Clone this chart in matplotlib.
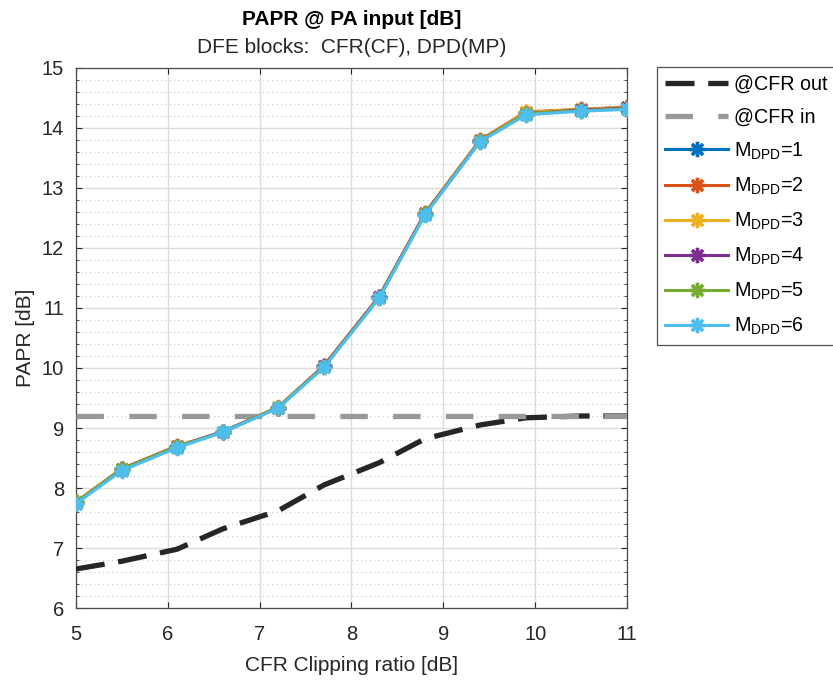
import numpy as np
import matplotlib
matplotlib.use("Agg")
import matplotlib.pyplot as plt
from matplotlib.ticker import MultipleLocator

plt.rcParams['font.family'] = ['Liberation Sans', 'DejaVu Sans']
plt.rcParams['mathtext.default'] = 'regular'

# clipping ratio sweep [dB]
clip_db = [5, 5.5, 6.1, 6.6, 7.2, 7.7, 8.3, 8.8, 9.4, 9.9, 10.5, 11]

# PAPR right after CFR, and of the raw input
papr_cfr_out = [6.65, 6.78, 6.98, 7.32, 7.62, 8.05, 8.42, 8.82, 9.05, 9.17, 9.2, 9.2]
papr_cfr_in = 9.2

# PAPR at PA input for each DPD memory depth
papr_dpd = {
    1: [7.76, 8.32, 8.69, 8.94, 9.34, 10.03, 11.18, 12.57, 13.79, 14.25, 14.30, 14.33],
    2: [7.77, 8.32, 8.70, 8.93, 9.34, 10.04, 11.19, 12.58, 13.80, 14.27, 14.31, 14.35],
    3: [7.76, 8.31, 8.69, 8.94, 9.35, 10.03, 11.18, 12.57, 13.79, 14.26, 14.31, 14.34],
    4: [7.75, 8.31, 8.69, 8.94, 9.34, 10.03, 11.18, 12.57, 13.78, 14.24, 14.30, 14.33],
    5: [7.76, 8.31, 8.69, 8.93, 9.34, 10.02, 11.17, 12.56, 13.78, 14.24, 14.29, 14.32],
    6: [7.74, 8.29, 8.67, 8.93, 9.33, 10.01, 11.16, 12.55, 13.77, 14.22, 14.28, 14.31],
}
dpd_colors = ['#0072BD', '#D95319', '#EDB120', '#7E2F8E', '#77AC30', '#4DBEEE']

fig = plt.figure(figsize=(8.33, 6.82), dpi=100)
ax = fig.add_axes([0.0912, 0.1085, 0.6615, 0.7918])

ax.plot(clip_db, papr_cfr_out, color='#262626', lw=3.8, dashes=(5.5, 2.6),
        label='@CFR out', zorder=3)
ax.plot([clip_db[0], clip_db[-1]], [papr_cfr_in, papr_cfr_in], color='#999999',
        lw=3.8, dashes=(5.2, 4.8), label='@CFR in', zorder=3)

for (m, vals), c in zip(papr_dpd.items(), dpd_colors):
    ax.plot(clip_db, vals, color=c, lw=2.2, marker=(8, 2, 0), ms=11, mew=2.4,
            label=r'M$_{DPD}$=%d' % m, zorder=4)

ax.set_xlim(5, 11)
ax.set_ylim(6, 15)
ax.xaxis.set_major_locator(MultipleLocator(1))
ax.yaxis.set_major_locator(MultipleLocator(1))
ax.yaxis.set_minor_locator(MultipleLocator(0.2))
ax.grid(True, which='major', color='#dcdcdc', lw=1.0, zorder=0)
ax.grid(True, which='minor', axis='y', color='#c8c8c8', lw=0.8,
        ls=(0, (1, 3)), zorder=0)
ax.tick_params(which='both', direction='in', top=True, right=True,
               labelsize=14.5, colors='#262626')
ax.tick_params(axis='x', pad=12)
ax.tick_params(axis='y', pad=8.5)
ax.tick_params(which='major', length=4)
ax.tick_params(which='minor', length=2.5)
ax.tick_params(axis='x', which='minor', top=False, bottom=False)
for s in ax.spines.values():
    s.set_color('#4a4a4a')
    s.set_linewidth(0.9)

ax.set_xlabel('CFR Clipping ratio [dB]', fontsize=15, color='#262626', labelpad=9)
ax.set_ylabel('PAPR [dB]', fontsize=15, color='#262626', labelpad=5)
fig.text(0.4219, 0.972, 'PAPR @ PA input [dB]', ha='center', va='center',
         fontsize=15, fontweight='bold', color='black')
fig.text(0.4219, 0.930, 'DFE blocks:  CFR(CF), DPD(MP)', ha='center',
         va='center', fontsize=15, color='#262626')

leg = fig.legend(loc='upper left', bbox_to_anchor=(0.789, 0.902),
                 fontsize=14.2, frameon=True, fancybox=False, handlelength=3.2,
                 handletextpad=0.3, labelspacing=0.7, borderpad=0.4,
                 borderaxespad=0)
leg.get_frame().set_edgecolor('#262626')
leg.get_frame().set_linewidth(0.9)

fig.savefig('out.png', dpi=100)
